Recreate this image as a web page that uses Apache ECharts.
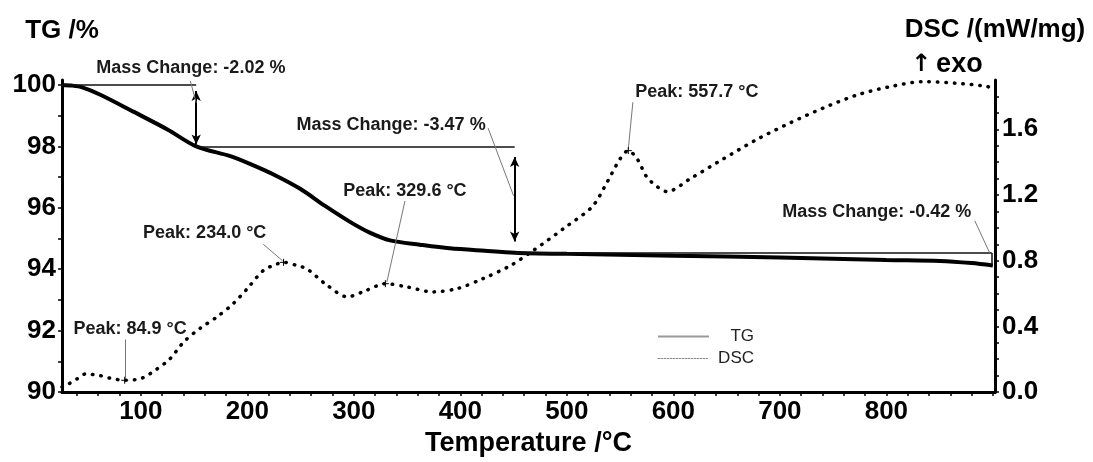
<!DOCTYPE html>
<html>
<head>
<meta charset="utf-8">
<title>TG / DSC</title>
<script src="https://cdn.jsdelivr.net/npm/echarts@6/dist/echarts.min.js"></script>
<style>
    html, body { margin: 0; padding: 0; background: #fff; }
    #main { width: 1093px; height: 462px; }
</style>
</head>
<body>
<div id="main"></div>
<script>
// TG curve: temperature (°C) / mass (%)
const tgTemp = [26, 35, 45, 62, 93, 125, 152, 184, 203, 226, 250, 273, 296, 315, 334, 362, 390, 423, 451, 500, 600, 700, 800, 850, 880, 900];
const tgMass = [100.0, 99.98, 99.92, 99.68, 99.13, 98.55, 98.0, 97.68, 97.42, 97.06, 96.61, 96.06, 95.55, 95.19, 94.94, 94.8, 94.68, 94.6, 94.54, 94.5, 94.44, 94.38, 94.3, 94.27, 94.2, 94.12];

// DSC curve: temperature (°C) / heat flow (mW/mg)
const dscTemp = [26, 31, 40, 48, 62, 71, 84.9, 101, 115, 127, 141, 156, 172, 187, 200, 215, 228, 234, 247, 256, 275, 294, 312, 329.6, 350, 374, 397, 421, 447, 468, 500, 524, 538, 550, 557.7, 566, 575, 585, 594, 616, 647, 679, 710, 741, 773, 804, 835, 866, 895, 900];
const dscValue = [0.03, 0.045, 0.08, 0.11, 0.10, 0.085, 0.072, 0.085, 0.14, 0.20, 0.31, 0.39, 0.46, 0.54, 0.63, 0.74, 0.78, 0.79, 0.77, 0.75, 0.65, 0.58, 0.62, 0.66, 0.64, 0.61, 0.63, 0.69, 0.77, 0.86, 1.01, 1.13, 1.28, 1.42, 1.47, 1.42, 1.31, 1.25, 1.22, 1.30, 1.42, 1.54, 1.64, 1.73, 1.81, 1.86, 1.89, 1.88, 1.86, 1.84];

// tick labels
const tempLabels = [100, 200, 300, 400, 500, 600, 700, 800];
const tgLabels = [90, 92, 94, 96, 98, 100];
const dscLabels = [0, 0.4, 0.8, 1.2, 1.6];

// annotations
const massChangeText = ['Mass Change: -2.02 %', 'Mass Change: -3.47 %', 'Mass Change: -0.42 %'];
const peakTemp = [84.9, 234.0, 329.6, 557.7];
const peakValue = [0.072, 0.79, 0.66, 1.47];
const peakText = ['Peak: 84.9 °C', 'Peak: 234.0 °C', 'Peak: 329.6 °C', 'Peak: 557.7 °C'];

let tempTicks = [];
for (let t = 40; t <= 900; t += 20) tempTicks.push(t);
let tgTicks = [];
for (let v = 90; v <= 100; v += 1) tgTicks.push(v);
let dscTicks = [];
for (let v = 0; v <= 18; v += 1) dscTicks.push(v / 10);

const FONT = '"Liberation Sans", Arial, sans-serif';
const boldText = {fontFamily: FONT, fontWeight: 'bold', color: '#000'};

function seg(a, b, style, arrows) {
    return [
        {coord: a, symbol: arrows ? 'arrow' : 'none', lineStyle: style},
        {coord: b, symbol: arrows ? 'arrow' : 'none'}
    ];
}

const refLine = {color: '#111', width: 1.5, type: 'solid'};
const arrowLine = {color: '#000', width: 2, type: 'solid'};
const leader = {color: '#777', width: 1, type: 'solid'};

const annoLabel = {
    show: true, position: 'inside', formatter: '{b}',
    fontFamily: FONT, fontWeight: 'bold', fontSize: 18, color: '#1a1a1a'
};

let chart = echarts.init(document.getElementById('main'));
let option = {
    animation: false,
    backgroundColor: '#fff',
    title: {
        text: '{a|↑} {b|exo}',
        left: 906, top: 46,
        textStyle: {
            rich: {
                a: {fontFamily: '"DejaVu Sans", sans-serif', fontSize: 24, color: '#000'},
                b: {fontFamily: FONT, fontWeight: 'bold', fontSize: 27, color: '#000'}
            }
        }
    },
    grid: {left: 62, right: 98, top: 80, bottom: 67},
    legend: {
        orient: 'vertical',
        left: 652, top: 323,
        itemWidth: 51, itemHeight: 14, itemGap: 5,
        formatter: '{r|{name}}',
        data: [
            {name: 'TG', lineStyle: {color: '#999', width: 2, type: 'solid'},
                itemStyle: {color: 'rgba(0,0,0,0)', borderWidth: 0}},
            {name: 'DSC', lineStyle: {color: '#888', width: 1.2, type: [1.5, 1.5]},
                itemStyle: {color: 'rgba(0,0,0,0)', borderWidth: 0}}
        ],
        textStyle: {
            fontFamily: FONT, fontSize: 17, color: '#222',
            rich: {r: {width: 40, align: 'right', fontFamily: FONT, fontSize: 17, color: '#222', lineHeight: 14}}
        }
    },
    xAxis: {
        type: 'value', min: 26, max: 902,
        name: 'Temperature /°C', nameLocation: 'middle', nameGap: 36,
        nameTextStyle: Object.assign({fontSize: 27}, boldText),
        axisLine: {onZero: false, lineStyle: {color: '#000', width: 3}},
        axisTick: {customValues: tempTicks, length: 4, lineStyle: {color: '#000', width: 1.5}},
        axisLabel: Object.assign({customValues: tempLabels, fontSize: 26, margin: 7}, boldText),
        splitLine: {show: false}
    },
    yAxis: [
        {
            type: 'value', position: 'left', min: 90, max: 100.16,
            name: 'TG /%', nameLocation: 'end', nameGap: 36,
            nameTextStyle: Object.assign({fontSize: 26}, boldText),
            axisLine: {show: true, lineStyle: {color: '#000', width: 3}},
            axisTick: {customValues: tgTicks, length: 4, lineStyle: {color: '#000', width: 1.5}},
            axisLabel: Object.assign({customValues: tgLabels, fontSize: 26, margin: 6}, boldText),
            splitLine: {show: false}
        },
        {
            type: 'value', position: 'right', min: 0, max: 1.9,
            name: 'DSC /(mW/mg)', nameLocation: 'end', nameGap: 37,
            nameTextStyle: Object.assign({fontSize: 26}, boldText),
            axisLine: {show: true, lineStyle: {color: '#000', width: 3}},
            axisTick: {customValues: dscTicks, length: 4, lineStyle: {color: '#000', width: 1.5}},
            axisLabel: Object.assign({
                customValues: dscLabels, fontSize: 26, margin: 7,
                formatter: function (v) { return v.toFixed(1); }
            }, boldText),
            splitLine: {show: false}
        }
    ],
    series: [
        {
            name: 'TG', type: 'line', yAxisIndex: 0, clip: false,
            data: tgTemp.map(function (t, i) { return [t, tgMass[i]]; }),
            symbol: 'none', smooth: 0.3,
            lineStyle: {color: '#000', width: 4},
            markLine: {
                silent: true, symbol: 'none', symbolSize: [7, 10],
                label: {show: false},
                data: [
                    seg([26, 100.0], [152, 100.0], refLine),
                    seg([152, 99.8], [152, 98.06], arrowLine, true),
                    seg([152, 98.0], [451, 98.0], refLine),
                    seg([451, 97.65], [451, 94.9], arrowLine, true),
                    seg([451, 94.53], [899, 94.53], refLine),
                    seg([899, 94.53], [899, 94.12], refLine),
                    seg([146.5, 100.13], [152, 99.42], leader),
                    seg([426, 98.6], [450, 96.39], leader),
                    seg([883, 95.58], [897, 94.53], leader)
                ]
            },
            markPoint: {
                silent: true, symbol: 'circle', symbolSize: 1,
                itemStyle: {color: 'rgba(0,0,0,0)'},
                label: annoLabel,
                data: [
                    {name: massChangeText[0], coord: [147, 100.1], label: {offset: [0, -14]}},
                    {name: massChangeText[1], coord: [335, 98.68]},
                    {name: massChangeText[2], coord: [791, 95.87]}
                ]
            }
        },
        {
            name: 'DSC', type: 'line', yAxisIndex: 1, clip: false,
            data: dscTemp.map(function (t, i) { return [t, dscValue[i]]; }),
            symbol: 'none', smooth: 0.3,
            lineStyle: {color: '#000', width: 3.5, type: [0.5, 8], cap: 'round'},
            markLine: {
                silent: true, symbol: 'none',
                label: {show: false},
                data: [
                    seg([85, 0.32], [85, 0.085], leader),
                    seg([215, 0.90], [233, 0.80], leader),
                    seg([348, 1.163], [331, 0.67], leader),
                    seg([562, 1.765], [557.7, 1.48], leader)
                ]
            },
            markPoint: {
                silent: true,
                data: peakTemp.map(function (t, i) {
                    return {
                        coord: [t, peakValue[i]],
                        symbol: 'path://M0,5H10M5,0V10', symbolSize: 7,
                        itemStyle: {color: 'rgba(0,0,0,0)', borderColor: '#000', borderWidth: 1},
                        label: {show: false}
                    };
                }).concat([
                    {name: peakText[0], coord: [90, 0.386]},
                    {name: peakText[1], coord: [160, 0.97]},
                    {name: peakText[2], coord: [348, 1.223]},
                    {name: peakText[3], coord: [622, 1.825]}
                ].map(function (d) {
                    return Object.assign(d, {
                        symbol: 'circle', symbolSize: 1,
                        itemStyle: {color: 'rgba(0,0,0,0)'},
                        label: annoLabel
                    });
                }))
            }
        }
    ]
};
chart.setOption(option);
window.addEventListener('resize', function () {
    chart.resize();
});
</script>
</body>
</html>
